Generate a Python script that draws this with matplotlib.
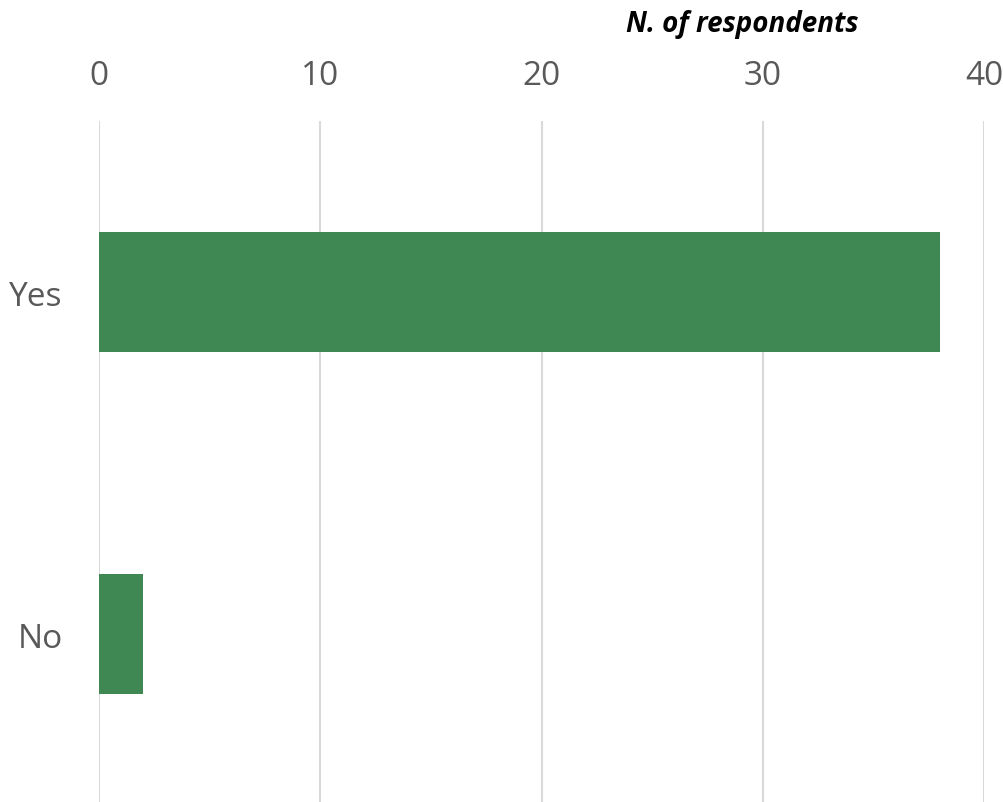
import matplotlib
matplotlib.use("Agg")
import matplotlib.pyplot as plt

categories = ["No", "Yes"]
values = [2, 38]
ticks = [0, 10, 20, 30, 40]
axis_title = "N. of respondents"

plt.rcParams['font.family'] = ['Open Sans', 'DejaVu Sans']

W, H = 1004, 803
fig = plt.figure(figsize=(W / 100, H / 100), dpi=100)
left, right = 99 / W, 984 / W
top_px, bot_px = 122, 803
ax = fig.add_axes([left, 1 - bot_px / H, right - left, (bot_px - top_px) / H])

ax.barh(range(len(categories)), values, height=0.35, color="#3f8854", zorder=3)
ax.set_xlim(0, 40)
ax.set_ylim(-0.491, 1.5)
ax.set_xticks(ticks)
ax.set_xticklabels([str(t) for t in ticks])
ax.set_yticks(range(len(categories)))
ax.set_yticklabels(categories)
ax.xaxis.tick_top()
ax.grid(axis="x", color="#d9d9d9", linewidth=1.5, zorder=0)
for s in ax.spines.values():
    s.set_visible(False)
ax.tick_params(axis="x", length=0, pad=21, labelsize=24, labelcolor="#595959")
ax.tick_params(axis="y", length=0, pad=26, labelsize=24, labelcolor="#595959")

fig.text(742 / W, 1 - 32 / H, axis_title, ha="center", va="baseline",
         fontsize=20, fontweight="bold", fontstyle="italic", color="black")

fig.savefig("out.png", dpi=100)
